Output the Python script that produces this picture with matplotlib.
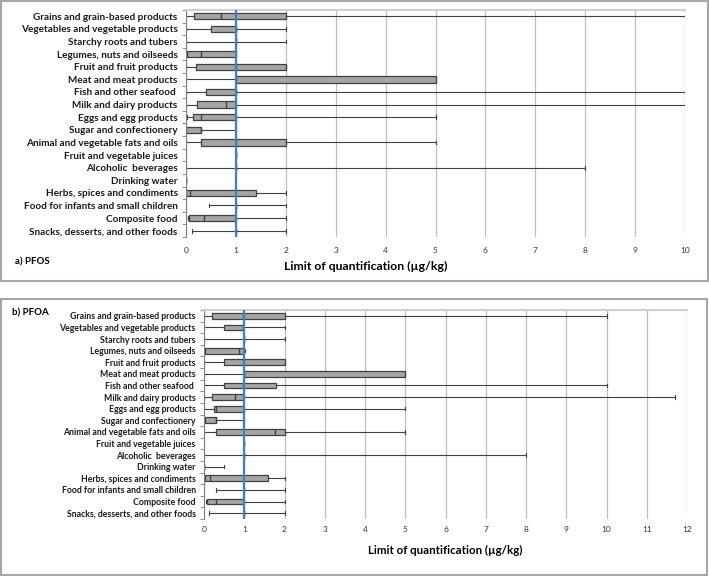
import numpy as np
import matplotlib
matplotlib.use('Agg')
import matplotlib.pyplot as plt
from matplotlib.patches import Rectangle

plt.rcParams['font.family'] = ['Lato', 'DejaVu Sans']

# ---------------- data ----------------
categories = ['Grains and grain-based products', 'Vegetables and vegetable products',
              'Starchy roots and tubers', 'Legumes, nuts and oilseeds',
              'Fruit and fruit products', 'Meat and meat products',
              'Fish and other seafood ', 'Milk and dairy products',
              'Eggs and egg products', 'Sugar and confectionery',
              'Animal and vegetable fats and oils', 'Fruit and vegetable juices',
              'Alcoholic  beverages', 'Drinking water',
              'Herbs, spices and condiments', 'Food for infants and small children',
              'Composite food', 'Snacks, desserts, and other foods']

# PFOS: min, Q1, median, Q3, max
pfos_min = [0, 0, 0, 0.02, 0, 0, 0, 0, 0.02, 0.01, 0, 1, 0, 0, 0.01, 0.47, 0.05, 0.12]
pfos_q1 = [0.16, 0.5, 1, 0.03, 0.2, 1, 0.4, 0.22, 0.15, 0.01, 0.3, 1, 1, 0, 0.01, 1, 0.07, 1]
pfos_med = [0.7, 1, 1, 0.3, 1, 1, 1, 0.8, 0.3, 0.3, 1, 1, 1, 0, 0.08, 1, 0.37, 1]
pfos_q3 = [2, 1, 1, 1, 2, 5, 1, 1, 1, 0.3, 2, 1, 1, 0, 1.4, 1, 1, 1]
pfos_max = [10, 2, 2, 1, 2, 5, 10, 10, 5, 1, 5, 1, 8, 0, 2, 2, 2, 2]

# PFOA: min, Q1, median, Q3, max
pfoa_min = [0, 0, 0, 0.02, 0, 0, 0, 0, 0, 0.02, 0, 1, 0, 0, 0.02, 0.3, 0.05, 0.13]
pfoa_q1 = [0.2, 0.5, 1, 0.02, 0.5, 1, 0.5, 0.2, 0.25, 0.02, 0.3, 1, 1, 0, 0.02, 1, 0.08, 1]
pfoa_med = [0.97, 0.97, 1, 0.87, 0.97, 1, 0.97, 0.78, 0.3, 0.3, 1.77, 1, 1, 0, 0.15, 1, 0.3, 1]
pfoa_q3 = [2, 0.97, 1, 1, 2, 5, 1.8, 1, 1, 0.3, 2, 1, 1, 0, 1.6, 1, 1, 1]
pfoa_max = [10, 2, 2, 1.03, 2, 5, 10, 11.7, 5, 1, 5, 1, 8, 0.5, 2, 2, 2, 2]

xlabel = 'Limit of quantification (µg/kg)'
loq_ref = 1

W, H = 709, 576
fig = plt.figure(figsize=(W / 100, H / 100), dpi=100)

# panel frames
fig.patches.append(Rectangle((1 / W, 1 - 281 / H), 707 / W, 280 / H, transform=fig.transFigure,
                             fill=False, edgecolor='#a6a6a6', lw=1.5))
fig.patches.append(Rectangle((1 / W, 1 / H), 706 / W, 276 / H, transform=fig.transFigure,
                             fill=False, edgecolor='#a6a6a6', lw=1.5))


def draw_panel(ax, mins, q1s, meds, q3s, maxs, xmax, labsize, xpad):
    n = len(categories)
    pos = np.arange(n, 0, -1)
    stats = [dict(whislo=a, q1=b, med=c, q3=d, whishi=e, fliers=[])
             for a, b, c, d, e in zip(mins, q1s, meds, q3s, maxs)]
    ax.bxp(stats, positions=pos, orientation='horizontal', widths=0.5, capwidths=0.3,
           showfliers=False, patch_artist=True,
           boxprops=dict(facecolor='#a6a6a6', edgecolor='#404040', lw=0.9),
           whiskerprops=dict(color='#404040', lw=0.8),
           capprops=dict(color='#404040', lw=0.8),
           medianprops=dict(color='#404040', lw=1.0))
    ax.axvline(loq_ref, color='#4a7ebb', lw=1.6, zorder=5)
    ax.set_xlim(0, xmax)
    ax.set_ylim(0.5, n + 0.5)
    ax.set_xticks(np.arange(0, xmax + 1, 1))
    ax.grid(axis='x', color='#bfbfbf', lw=0.9)
    ax.set_axisbelow(True)
    ax.set_yticks(pos)
    ax.set_yticklabels(categories, fontsize=labsize, fontweight='bold', color='#1a1a1a')
    ax.set_yticks(np.arange(0.5, n + 1, 1), minor=True)
    ax.tick_params(axis='y', which='major', length=0, pad=6)
    ax.tick_params(axis='y', which='minor', length=3, color='#808080', direction='out')
    ax.tick_params(axis='x', length=0, labelsize=6, pad=xpad, labelcolor='#333333')
    ax.spines['right'].set_visible(False)
    ax.spines['bottom'].set_visible(False)
    ax.spines['left'].set_color('#808080')
    ax.spines['top'].set_color('#d0d0d0')
    ax.spines['top'].set_linewidth(1.5)


# ---------------- a) PFOS ----------------
ax1 = fig.add_axes([186 / W, 1 - 237 / H, (685 - 186) / W, (237 - 10) / H])
draw_panel(ax1, pfos_min, pfos_q1, pfos_med, pfos_q3, pfos_max, 10, 7.2, 7)
ax1.set_xlabel(xlabel, fontsize=8.8, fontweight='bold')
ax1.xaxis.set_label_coords(0.36, -0.105)
ax1.xaxis.label.set_va('top')
fig.text(15 / W, 1 - 262 / H, 'a) PFOS', fontsize=7, fontweight='bold', va='center')

# ---------------- b) PFOA ----------------
ax2 = fig.add_axes([204 / W, 1 - 519 / H, (687 - 204) / W, (519 - 310) / H])
draw_panel(ax2, pfoa_min, pfoa_q1, pfoa_med, pfoa_q3, pfoa_max, 12, 6.3, 5)
ax2.set_xlabel(xlabel, fontsize=8.3, fontweight='bold')
ax2.xaxis.set_label_coords(0.5, -0.125)
ax2.xaxis.label.set_va('top')
fig.text(12 / W, 1 - 313 / H, 'b) PFOA', fontsize=7, fontweight='bold', va='center')

fig.savefig('out.png', dpi=100)
